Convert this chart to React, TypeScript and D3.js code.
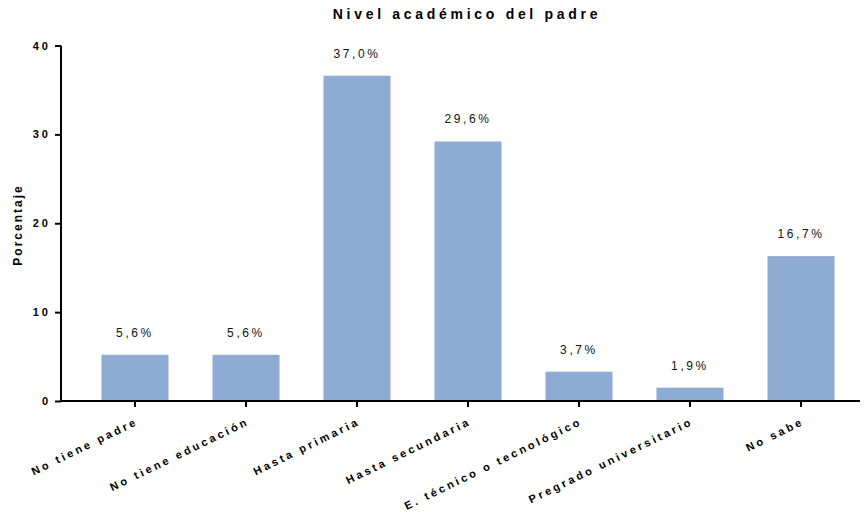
import * as d3 from 'd3';
import { useEffect, useRef } from 'react';

const width = 866;
const height = 512;

const categories = [
  'No tiene padre',
  'No tiene educación',
  'Hasta primaria',
  'Hasta secundaria',
  'E. técnico o tecnológico',
  'Pregrado universitario',
  'No sabe',
];
// bar heights as drawn in the picture
const barValues = [5.2, 5.2, 36.6, 29.2, 3.3, 1.5, 16.3];
const valueLabels = ['5,6%', '5,6%', '37,0%', '29,6%', '3,7%', '1,9%', '16,7%'];
const yTicks = [0, 10, 20, 30, 40];

const font = '"Liberation Sans", Arial, sans-serif';

function App() {
  const ref = useRef<SVGSVGElement>(null);

  useEffect(() => {
    const svg = d3.select(ref.current);
    svg.selectAll('*').remove();

    const y = d3.scaleLinear().domain([0, 40]).range([401, 45.5]);
    const x = d3
      .scaleBand()
      .domain(categories)
      .range([79.5, 856.5])
      .paddingInner(0.396)
      .paddingOuter(0.198);

    // title
    svg
      .append('text')
      .attr('x', 467)
      .attr('y', 19)
      .attr('text-anchor', 'middle')
      .attr('font-family', font)
      .attr('font-weight', 'bold')
      .attr('font-size', 14)
      .attr('letter-spacing', 3.7)
      .text('Nivel académico del padre');

    // y title
    svg
      .append('text')
      .attr('transform', 'translate(22,225) rotate(-90)')
      .attr('text-anchor', 'middle')
      .attr('font-family', font)
      .attr('font-weight', 'bold')
      .attr('font-size', 12)
      .attr('letter-spacing', 2)
      .text('Porcentaje');

    // bars
    svg
      .append('g')
      .selectAll('rect')
      .data(barValues)
      .join('rect')
      .attr('x', (_, i) => x(categories[i]) || 0)
      .attr('y', (d) => y(d))
      .attr('width', x.bandwidth())
      .attr('height', (d) => y(0) - y(d))
      .attr('fill', '#8eabd3');

    // value labels
    svg
      .append('g')
      .selectAll('text')
      .data(valueLabels)
      .join('text')
      .attr('x', (_, i) => (x(categories[i]) || 0) + x.bandwidth() / 2)
      .attr('y', (_, i) => y(barValues[i]) - 18)
      .attr('text-anchor', 'middle')
      .attr('font-family', font)
      .attr('font-size', 12)
      .attr('letter-spacing', 2.6)
      .attr('fill', '#111')
      .text((d) => d);

    // y axis
    const yAxis = svg
      .append('g')
      .attr('transform', 'translate(61,0)')
      .call(d3.axisLeft(y).tickValues(yTicks).tickSize(6).tickPadding(4));
    yAxis.select('.domain').attr('stroke-width', 2).attr('d', `M0,${y(40)}V${y(0) + 1}`);
    yAxis.selectAll('.tick line').attr('stroke-width', 2);
    yAxis
      .selectAll('.tick text')
      .attr('font-family', font)
      .attr('font-weight', 'bold')
      .attr('font-size', 11)
      .attr('letter-spacing', 3)
      .attr('fill', '#000');

    // x axis
    const xAxis = svg
      .append('g')
      .attr('transform', `translate(0,${y(0)})`)
      .call(d3.axisBottom(x).tickSize(6).tickSizeOuter(0));
    xAxis.select('.domain').attr('stroke-width', 2).attr('d', 'M60,0H860');
    xAxis.selectAll('.tick line').attr('stroke-width', 2);
    xAxis
      .selectAll('.tick text')
      .attr('font-family', font)
      .attr('font-weight', 'bold')
      .attr('font-size', 11)
      .attr('letter-spacing', 2.9)
      .attr('fill', '#000')
      .attr('text-anchor', 'end')
      .attr('dy', 0)
      .attr('transform', 'translate(0,15) rotate(-26)');
  }, []);

  return (
    <svg
      ref={ref}
      width={width}
      height={height}
      style={{ position: 'absolute', left: 0, top: 0, background: '#fff' }}
    />
  );
}

export default App;
